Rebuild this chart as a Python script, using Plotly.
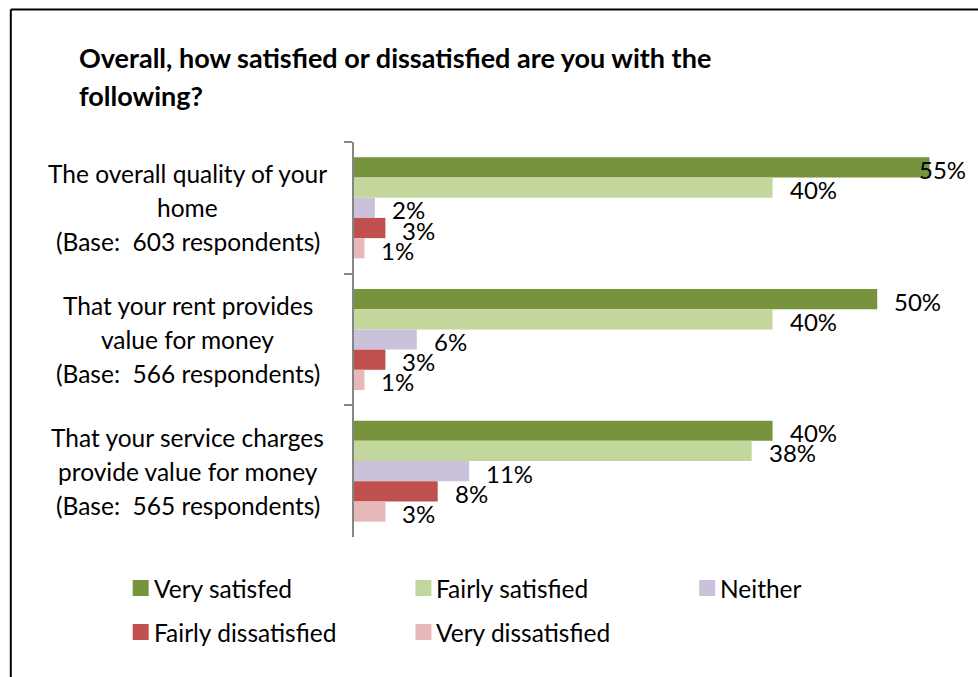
import plotly.graph_objects as go

# ---- data -------------------------------------------------------------
categories = ["home", "rent", "service"]
category_lines = [
    ["The overall quality of your", "home", "(Base: \u00a0603 respondents)"],
    ["That your rent provides", "value for money", "(Base: \u00a0566 respondents)"],
    ["That your service charges", "provide value for money", "(Base: \u00a0565 respondents)"],
]
series_names = ["Very satisfed", "Fairly satisfied", "Neither",
                "Fairly dissatisfied", "Very dissatisfied"]
series_colors = ["#77933C", "#C3D69B", "#CCC1DA", "#C0504D", "#E6B9B8"]
very_satisfied = [0.55, 0.50, 0.40]
fairly_satisfied = [0.40, 0.40, 0.38]
neither = [0.02, 0.06, 0.11]
fairly_dissatisfied = [0.03, 0.03, 0.08]
very_dissatisfied = [0.01, 0.01, 0.03]
series_values = [very_satisfied, fairly_satisfied, neither,
                 fairly_dissatisfied, very_dissatisfied]
title_lines = ["Overall, how satisfied or dissatisfied are you with the",
               "following?"]

# ---- geometry (pixels) ------------------------------------------------
W, H = 978, 677
L, R, T, B = 353.5, 940.0, 142.0, 537.0
XMAX = 0.56
BARGAP = 0.233
FONT = "Lato"
FS = 24.5        # category labels and legend
FS_VAL = 24      # value labels
FS_TITLE = 27    # title


def px_x(px):
    return (px - L) / (R - L)


def px_y(py):
    return (B - py) / (B - T)


fig = go.Figure()
for name, color, vals in zip(series_names, series_colors, series_values):
    fig.add_trace(go.Bar(
        y=categories, x=vals, name=name, orientation="h",
        marker=dict(color=color, line=dict(width=0)),
        showlegend=False, hoverinfo="skip",
    ))

annotations = []
shapes = []

# data labels to the right of each bar (kept inside the chart frame)
n = len(series_names)
group_w = 1 - BARGAP
bar_w = group_w / n
for i, vals in enumerate(series_values):
    for j, v in enumerate(vals):
        ypos = j - group_w / 2 + (i + 0.5) * bar_w
        left_px = min(L + v / XMAX * (R - L) + 15, 917)
        annotations.append(dict(
            x=px_x(left_px), xref="paper", y=ypos, yref="y",
            text=f"{round(v * 100)}%", showarrow=False,
            xanchor="left", yanchor="middle", yshift=-2,
            font=dict(family=FONT, size=FS_VAL, color="#000000"),
        ))

# category labels, centred, one annotation per line
for j, lines in enumerate(category_lines):
    for k, line in enumerate(lines):
        annotations.append(dict(
            x=px_x(187), xref="paper", y=j, yref="y",
            text=line, showarrow=False, xanchor="center", yanchor="middle",
            yshift=-(k - 1) * 34,
            font=dict(family=FONT, size=FS, color="#000000"),
        ))

# title
for k, line in enumerate(title_lines):
    annotations.append(dict(
        x=px_x(76), xref="paper", y=px_y(58 + k * 37), yref="paper",
        text=f"<b>{line}</b>", showarrow=False, xanchor="left",
        yanchor="middle",
        font=dict(family=FONT, size=FS_TITLE, color="#000000"),
    ))

# legend
legend_pos = [(132, 588), (415, 588), (699, 588), (132, 632), (415, 632)]
for (lx, ly), name, color in zip(legend_pos, series_names, series_colors):
    shapes.append(dict(
        type="rect", xref="paper", yref="paper",
        x0=px_x(lx), x1=px_x(lx + 16), y0=px_y(ly - 8), y1=px_y(ly + 8),
        fillcolor=color, line=dict(width=0),
    ))
    annotations.append(dict(
        x=px_x(lx + 19), xref="paper", y=px_y(ly), yref="paper",
        text=name, showarrow=False, xanchor="left", yanchor="middle",
        font=dict(family=FONT, size=FS, color="#000000"),
    ))

# outer frame: top and left edges
shapes.append(dict(type="line", xref="paper", yref="paper",
                   x0=px_x(10), x1=px_x(W + 5), y0=px_y(9.5), y1=px_y(9.5),
                   line=dict(color="#000000", width=2)))
shapes.append(dict(type="line", xref="paper", yref="paper",
                   x0=px_x(10), x1=px_x(10), y0=px_y(9.5), y1=px_y(H + 5),
                   line=dict(color="#000000", width=2)))

fig.update_layout(
    width=W, height=H,
    margin=dict(l=L, r=W - R, t=T, b=H - B, pad=0),
    paper_bgcolor="#FFFFFF", plot_bgcolor="#FFFFFF",
    barmode="group", bargap=BARGAP, bargroupgap=0,
    xaxis=dict(range=[0, XMAX], visible=False, fixedrange=True),
    yaxis=dict(
        type="category", autorange="reversed", showticklabels=False,
        showline=True, linecolor="#868686", linewidth=2,
        ticks="outside", tickson="boundaries", ticklen=8,
        tickcolor="#868686", tickwidth=2, showgrid=False, zeroline=False,
        fixedrange=True,
    ),
    annotations=annotations, shapes=shapes,
    showlegend=False,
    font=dict(family=FONT, size=FS, color="#000000"),
)

fig.write_html("out.html", config={"displayModeBar": False})
